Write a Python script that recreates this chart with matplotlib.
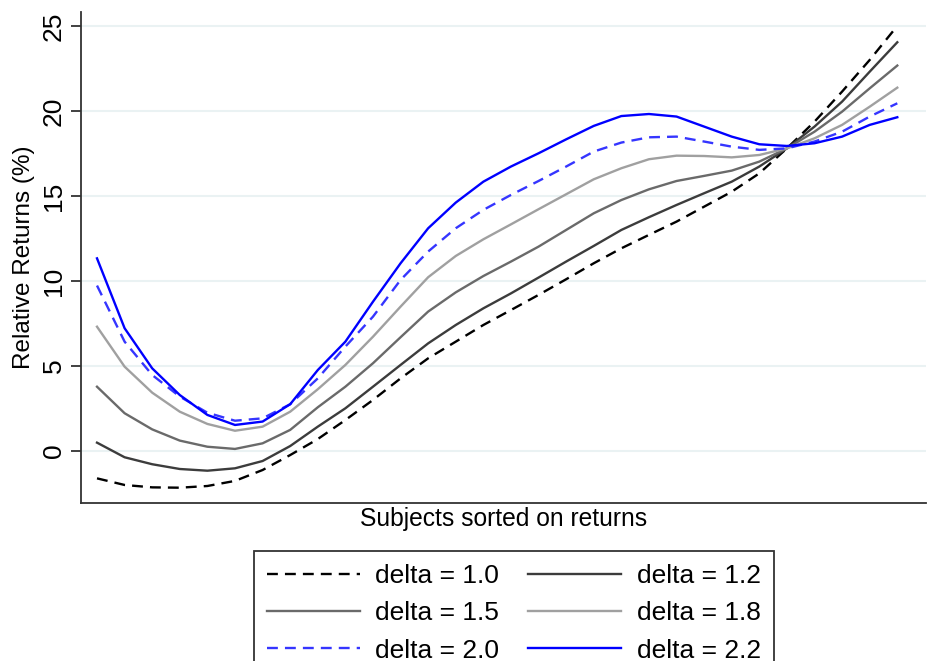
import numpy as np
import matplotlib
matplotlib.use("Agg")
import matplotlib.pyplot as plt

plt.rcParams["font.family"] = ["Liberation Sans", "DejaVu Sans"]

# subjects sorted on returns (30 groups)
subjects = np.arange(1, 31)

delta_1_0 = [-1.61, -2.00, -2.14, -2.16, -2.06, -1.76, -1.12, -0.24, 0.70, 1.82,
             3.00, 4.27, 5.45, 6.43, 7.41, 8.29, 9.18, 10.10, 11.04, 11.92,
             12.71, 13.49, 14.37, 15.25, 16.33, 17.80, 19.37, 21.14, 23.00, 25.00]
delta_1_2 = [0.49, -0.37, -0.78, -1.06, -1.16, -1.02, -0.59, 0.29, 1.43, 2.51,
             3.78, 5.06, 6.33, 7.41, 8.39, 9.27, 10.20, 11.14, 12.06, 13.00,
             13.75, 14.47, 15.16, 15.84, 16.73, 17.80, 19.08, 20.55, 22.31, 24.04]
delta_1_5 = [3.78, 2.22, 1.27, 0.61, 0.25, 0.12, 0.45, 1.24, 2.57, 3.78,
             5.16, 6.69, 8.20, 9.33, 10.29, 11.14, 12.02, 13.00, 13.98, 14.76,
             15.39, 15.88, 16.18, 16.49, 17.02, 17.80, 18.78, 19.96, 21.33, 22.67]
delta_1_8 = [7.31, 4.96, 3.43, 2.31, 1.59, 1.19, 1.43, 2.31, 3.63, 5.06,
             6.72, 8.49, 10.22, 11.47, 12.45, 13.33, 14.22, 15.10, 15.98, 16.63,
             17.16, 17.37, 17.35, 17.27, 17.41, 17.80, 18.39, 19.18, 20.25, 21.37]
delta_2_0 = [9.73, 6.43, 4.47, 3.20, 2.25, 1.78, 1.92, 2.75, 4.27, 6.14,
             7.90, 10.06, 11.73, 13.10, 14.18, 15.06, 15.88, 16.73, 17.61, 18.14,
             18.45, 18.49, 18.20, 17.90, 17.71, 17.80, 18.20, 18.78, 19.67, 20.45]
delta_2_2 = [11.33, 7.22, 4.86, 3.29, 2.12, 1.53, 1.73, 2.75, 4.76, 6.43,
             8.78, 11.04, 13.10, 14.61, 15.84, 16.73, 17.51, 18.33, 19.12, 19.70,
             19.82, 19.67, 19.08, 18.49, 18.04, 17.94, 18.10, 18.49, 19.18, 19.63]

labels = ["delta = 1.0", "delta = 1.2", "delta = 1.5",
          "delta = 1.8", "delta = 2.0", "delta = 2.2"]
yticks = [0, 5, 10, 15, 20, 25]

series = [delta_1_0, delta_1_2, delta_1_5, delta_1_8, delta_2_0, delta_2_2]
colors = ["black", "#3c3c3c", "#6a6a6a", "#a0a0a0", "#3535ff", "#0000ff"]
dashed = [True, False, False, False, True, False]

fig = plt.figure(figsize=(9.28, 6.61), dpi=100)
ax = fig.add_axes([81 / 928, 1 - 503 / 661, 845 / 928, 491 / 661])

handles = []
for vals, lab, col, dsh in zip(series, labels, colors, dashed):
    line, = ax.plot(subjects, vals, color=col, lw=1.7, label=lab)
    if dsh:
        line.set_dashes((4.6, 3.0))
    handles.append(line)

ax.set_xlim(0.42, 31.04)
ax.set_ylim(-3.06, 25.82)
ax.set_yticks(yticks)
ax.set_xticks([])
ax.grid(axis="y", color="#eaf2f3", lw=1.5)
ax.set_axisbelow(True)
for side in ["top", "right"]:
    ax.spines[side].set_visible(False)
for side in ["left", "bottom"]:
    ax.spines[side].set_color("#333333")
    ax.spines[side].set_linewidth(1.3)
ax.tick_params(axis="y", length=7, width=1.3, color="#333333", labelsize=19, pad=4)
for t in ax.get_yticklabels():
    t.set_rotation(90)
    t.set_va("center")

ax.set_ylabel("Relative Returns (%)", fontsize=17.5, labelpad=5)
ax.set_xlabel("Subjects sorted on returns", fontsize=17.7, labelpad=3)

# stata fills the legend row by row, matplotlib column by column
order = [0, 2, 4, 1, 3, 5]
leg = fig.legend([handles[i] for i in order], [labels[i] for i in order],
                 loc="upper left", bbox_to_anchor=(254 / 928, 1 - 551 / 661),
                 ncol=2, fontsize=19, frameon=True, fancybox=False,
                 edgecolor="black", handlelength=3.5, handletextpad=0.6,
                 columnspacing=1.1, labelspacing=0.5, borderpad=0.5,
                 borderaxespad=0)
leg.get_frame().set_linewidth(1.3)

fig.savefig("out.png", dpi=100)
